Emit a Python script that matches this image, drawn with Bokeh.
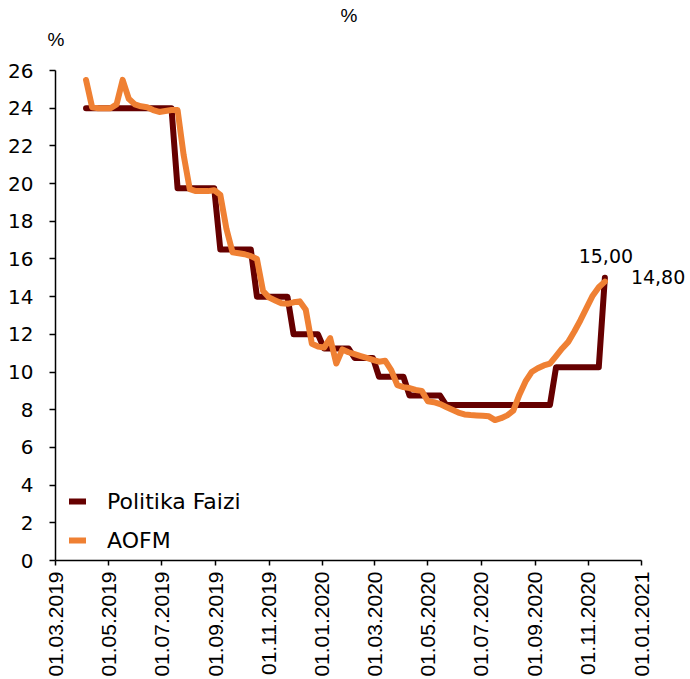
import math
import pandas as pd
from bokeh.plotting import figure
from bokeh.models import (Range1d, FixedTicker, DatetimeTickFormatter, Title, Label)
from bokeh.embed import file_html
from bokeh.resources import INLINE

# ---- data (weekly observations, Fridays) ----
first_week = "2019-04-05"
n_weeks = 86

politika_faizi = [
    24.00, 24.00, 24.00, 24.00, 24.00, 24.00, 24.00, 24.00, 24.00, 24.00,
    24.00, 24.00, 24.00, 24.00, 24.00,
    19.75, 19.75, 19.75, 19.75, 19.75, 19.75, 19.75,
    16.50, 16.50, 16.50, 16.50, 16.50, 16.50,
    14.00, 14.00, 14.00, 14.00, 14.00, 14.00,
    12.00, 12.00, 12.00, 12.00, 12.00,
    11.25, 11.25, 11.25, 11.25, 11.25,
    10.75, 10.75, 10.75, 10.75,
    9.75, 9.75, 9.75, 9.75, 9.75,
    8.75, 8.75, 8.75, 8.75, 8.75, 8.75,
    8.25, 8.25, 8.25, 8.25, 8.25, 8.25, 8.25, 8.25, 8.25, 8.25,
    8.25, 8.25, 8.25, 8.25, 8.25, 8.25, 8.25, 8.25,
    10.25, 10.25, 10.25, 10.25, 10.25, 10.25, 10.25, 10.25,
    15.00,
]

aofm = [
    25.50, 24.05, 24.00, 24.00, 24.00, 24.20, 25.50, 24.50, 24.20, 24.10,
    24.05, 23.90, 23.80, 23.85, 23.90, 23.90, 21.50, 19.70, 19.60, 19.60,
    19.60, 19.65, 19.40, 17.60, 16.35, 16.30, 16.25, 16.15, 16.00, 14.30,
    13.95, 13.80, 13.65, 13.62, 13.70, 13.75, 13.30, 11.50, 11.35, 11.30,
    11.80, 10.45, 11.20, 11.05, 10.95, 10.85, 10.75, 10.65, 10.55, 10.60,
    10.10, 9.30, 9.20, 9.15, 9.05, 9.00, 8.45, 8.40, 8.30, 8.15,
    8.00, 7.85, 7.75, 7.72, 7.70, 7.68, 7.65, 7.45, 7.55, 7.70,
    7.95, 8.80, 9.50, 10.00, 10.20, 10.35, 10.45, 10.85, 11.25, 11.60,
    12.15, 12.75, 13.40, 14.05, 14.50, 14.80,
]

x_tick_dates = ["2019-03-01", "2019-05-01", "2019-07-01", "2019-09-01",
                "2019-11-01", "2020-01-01", "2020-03-01", "2020-05-01",
                "2020-07-01", "2020-09-01", "2020-11-01", "2021-01-01"]
y_ticks = [0, 2, 4, 6, 8, 10, 12, 14, 16, 18, 20, 22, 24, 26]

series_names = ["Politika Faizi", "AOFM"]

# ---- layout (pixels) ----
W, H = 690, 679
LEFT = 55          # frame left
AXIS_RIGHT = 641   # where the x axis line ends
MAROON = "#660000"
ORANGE = "#EF8033"

# ---- build ----
dates = pd.date_range(first_week, periods=n_weeks, freq="7D")
tick_ts = pd.to_datetime(x_tick_dates)


def to_ms(ts):
    return pd.Timestamp(ts).value / 1e6


axis_span = tick_ts[-1] - tick_ts[0]
x_end = tick_ts[0] + axis_span * ((W - LEFT) / (AXIS_RIGHT - LEFT))

p = figure(width=W, height=H, x_axis_type="datetime",
           output_backend="svg", toolbar_location=None, title=None,
           x_range=Range1d(tick_ts[0], x_end),
           y_range=Range1d(y_ticks[0], y_ticks[-1]),
           min_border_left=LEFT, min_border_right=0, min_border_top=0,
           min_border_bottom=0)

p.outline_line_color = None
p.xgrid.visible = False
p.ygrid.visible = False
p.background_fill_color = "white"
p.border_fill_color = "white"

# titles ("%" above the y axis and "%" above the chart)
t_axis = Title(text="%", align="left", offset=-8, text_font="Liberation Sans",
               text_font_size="19px", text_font_style="normal", text_color="black",
               standoff=0, padding=dict(left=0, right=0, top=1, bottom=21))
p.add_layout(t_axis, "above")
t_main = Title(text="%", align="left", offset=285, text_font="Liberation Sans",
               text_font_size="19px", text_font_style="normal", text_color="black",
               standoff=0, padding=dict(left=0, right=0, top=2, bottom=0))
p.add_layout(t_main, "above")

r1 = p.line(dates, politika_faizi, line_color=MAROON, line_width=6,
            line_join="round", line_cap="round", legend_label=series_names[0])
r2 = p.line(dates, aofm, line_color=ORANGE, line_width=6,
            line_join="round", line_cap="round", legend_label=series_names[1])


def fmt(v):
    return f"{v:.2f}".replace(".", ",")


lab1 = Label(x=to_ms(dates[-1]), y=politika_faizi[-1], text=fmt(politika_faizi[-1]),
             x_offset=1, y_offset=22, text_align="center", text_baseline="middle",
             text_font="DejaVu Sans", text_font_size="19px", text_color="black")
lab2 = Label(x=to_ms(dates[-1]), y=aofm[-1], text=fmt(aofm[-1]),
             x_offset=26, y_offset=5, text_align="left", text_baseline="middle",
             text_font="DejaVu Sans", text_font_size="19px", text_color="black")
p.add_layout(lab1)
p.add_layout(lab2)

# axes
for ax in (p.xaxis[0], p.yaxis[0]):
    ax.axis_line_color = "black"
    ax.axis_line_width = 1.5
    ax.major_tick_line_color = "black"
    ax.major_tick_line_width = 1.5
    ax.major_tick_in = 0
    ax.minor_tick_line_color = None

p.yaxis.ticker = FixedTicker(ticks=y_ticks)
p.yaxis.major_tick_out = 6
p.yaxis.major_label_standoff = 16
p.yaxis.major_label_text_font = "DejaVu Sans"
p.yaxis.major_label_text_font_size = "20px"
p.yaxis.major_label_text_color = "black"

p.xaxis.ticker = FixedTicker(ticks=[to_ms(t) for t in tick_ts])
p.xaxis.bounds = (to_ms(tick_ts[0]), to_ms(tick_ts[-1]))
fmt_str = "%d.%m.%Y"
p.xaxis.formatter = DatetimeTickFormatter(
    microseconds=fmt_str, milliseconds=fmt_str, seconds=fmt_str, minsec=fmt_str,
    minutes=fmt_str, hourmin=fmt_str, hours=fmt_str, days=fmt_str,
    months=fmt_str, years=fmt_str, strip_leading_zeros=False)
p.xaxis.major_tick_out = 5
p.xaxis.major_label_standoff = 6
p.xaxis.major_label_orientation = math.pi / 2
p.xaxis.major_label_text_font = "Liberation Sans"
p.xaxis.major_label_text_font_size = "21px"
p.xaxis.major_label_text_color = "black"

# legend
lg = p.legend[0]
lg.location = (14, 7)
lg.orientation = "vertical"
lg.background_fill_alpha = 0
lg.border_line_color = None
lg.padding = 0
lg.margin = 0
lg.spacing = 13
lg.glyph_width = 17
lg.glyph_height = 26
lg.label_height = 26
lg.label_standoff = 21
lg.label_text_font = "DejaVu Sans"
lg.label_text_font_size = "22px"
lg.label_text_color = "black"
lg.label_text_baseline = "middle"

open("out.html", "w").write(file_html(p, INLINE))
